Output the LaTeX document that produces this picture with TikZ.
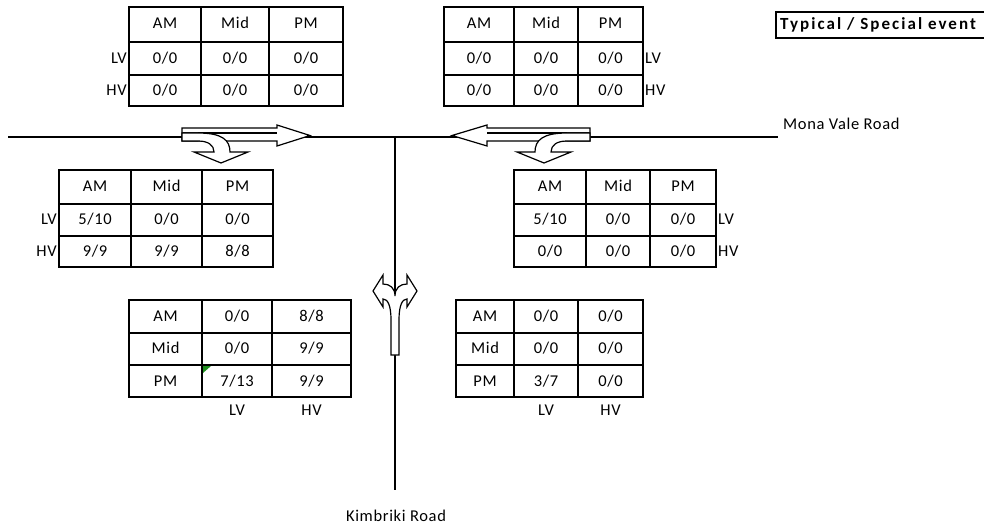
\documentclass[tikz,border=0pt]{standalone}
\usepackage{fontspec}
\setmainfont{Carlito}[LetterSpace=4]
\newfontfamily\legendfont{Carlito}[LetterSpace=12]
\definecolor{markGreen}{HTML}{1F8F1F}
\usetikzlibrary{positioning}

\begin{document}
\begin{tikzpicture}[x=1pt,y=-1pt]
    \tikzset{
        cell/.style={font=\fontsize{16.5}{19}\selectfont, inner sep=0pt, text height=10pt, text depth=1pt},
        sidelabel/.style={font=\fontsize{16.5}{19}\selectfont, inner sep=1pt, text height=10pt, text depth=1pt},
        grid/.style={line width=1.6pt},
        road/.style={line width=1.2pt},
        blockarrow/.style={draw, fill=white, line width=1.2pt, line join=miter},
    }
    \useasboundingbox (0,0) rectangle (984,526);

    % Roads
    \coordinate (westEnd) at (8,137);
    \coordinate (eastEnd) at (778,137);
    \coordinate (junction) at (395,137);
    \coordinate (southEnd) at (395,490);
    \draw[road] (westEnd) -- (eastEnd);
    \draw[road] (junction) -- (southEnd);
    \node[sidelabel, anchor=west] (monaVale) at (782,125) {Mona Vale Road};
    \node[sidelabel] (kimbriki) at (396,517) {Kimbriki Road};

    % Legend box
    \draw[line width=1.2pt] (984,12) -- (776,12) -- (776,38) -- (984,38);
    \node[sidelabel, font=\fontsize{17}{19}\legendfont\bfseries, anchor=west] (eventType) at (779,25.5) {Typical / Special event};

    % Eastbound arrows (through + turn)
    \draw[blockarrow] (182,128) -- (277,128) -- (277,125) -- (310,135.5) -- (277,146) -- (277,141) -- (182,141) -- cycle;
    \draw[line width=1.2pt] (182,133) -- (277,133);
    \draw[blockarrow] (182,133) -- (198,133) .. controls (222,133) and (230,140) .. (230,152) -- (248,152) -- (221,163) -- (194,152) -- (214,152) .. controls (214,145) and (208,141) .. (198,141) -- (182,141) -- cycle;

    % Westbound arrows (through + turn)
    \draw[blockarrow] (590,128) -- (487,128) -- (487,125) -- (452,135.5) -- (487,146) -- (487,141) -- (590,141) -- cycle;
    \draw[line width=1.2pt] (487,133) -- (590,133);
    \draw[blockarrow] (590,133) -- (567,133) .. controls (543,133) and (535,140) .. (535,152) -- (517,152) -- (544,163) -- (571,152) -- (551,152) .. controls (551,145) and (557,141) .. (567,141) -- (590,141) -- cycle;

    % Northbound split arrow
    \draw[blockarrow] (391,355) -- (391,320) .. controls (391,306) and (388,299) .. (383,299) -- (383,307) -- (373,291) -- (383,275) -- (383,284) .. controls (390,284) and (395,288) .. (395,296) .. controls (395,288) and (400,284) .. (407,284) -- (407,275) -- (417,291) -- (407,307) -- (407,299) .. controls (402,299) and (399,306) .. (399,320) -- (399,355) -- cycle;

    % Table: top left
    \draw[grid] (129,7) rectangle (343,106);
    \draw[grid] (201,7) -- (201,106) (269,7) -- (269,106) (129,42) -- (343,42) (129,75) -- (343,75);
    \node[cell] (tlAM) at (165,24.5) {AM};
    \node[cell] (tlMid) at (235,24.5) {Mid};
    \node[cell] (tlPM) at (306,24.5) {PM};
    \node[cell] (tlLVam) at (165,59) {0/0};
    \node[cell] (tlLVmid) at (235,59) {0/0};
    \node[cell] (tlLVpm) at (306,59) {0/0};
    \node[cell] (tlHVam) at (165,91) {0/0};
    \node[cell] (tlHVmid) at (235,91) {0/0};
    \node[cell] (tlHVpm) at (306,91) {0/0};
    \node[sidelabel, anchor=east] (tlLV) at (128,59) {LV};
    \node[sidelabel, anchor=east] (tlHV) at (128,91) {HV};

    % Table: top right
    \draw[grid] (444,7) rectangle (643,106);
    \draw[grid] (514,7) -- (514,106) (578,7) -- (578,106) (444,42) -- (643,42) (444,75) -- (643,75);
    \node[cell] (trAM) at (479,24.5) {AM};
    \node[cell] (trMid) at (546,24.5) {Mid};
    \node[cell] (trPM) at (610.5,24.5) {PM};
    \node[cell] (trLVam) at (479,59) {0/0};
    \node[cell] (trLVmid) at (546,59) {0/0};
    \node[cell] (trLVpm) at (610.5,59) {0/0};
    \node[cell] (trHVam) at (479,91) {0/0};
    \node[cell] (trHVmid) at (546,91) {0/0};
    \node[cell] (trHVpm) at (610.5,91) {0/0};
    \node[sidelabel, anchor=west] (trLV) at (644,59) {LV};
    \node[sidelabel, anchor=west] (trHV) at (644,91) {HV};

    % Table: middle left
    \draw[grid] (59,170) rectangle (273,267);
    \draw[grid] (131,170) -- (131,267) (202,170) -- (202,267) (59,204) -- (273,204) (59,236) -- (273,236);
    \node[cell] (mlAM) at (95,187) {AM};
    \node[cell] (mlMid) at (166.5,187) {Mid};
    \node[cell] (mlPM) at (237.5,187) {PM};
    \node[cell] (mlLVam) at (95,220.5) {5/10};
    \node[cell] (mlLVmid) at (166.5,220.5) {0/0};
    \node[cell] (mlLVpm) at (237.5,220.5) {0/0};
    \node[cell] (mlHVam) at (95,252) {9/9};
    \node[cell] (mlHVmid) at (166.5,252) {9/9};
    \node[cell] (mlHVpm) at (237.5,252) {8/8};
    \node[sidelabel, anchor=east] (mlLV) at (58,220.5) {LV};
    \node[sidelabel, anchor=east] (mlHV) at (58,252) {HV};

    % Table: middle right
    \draw[grid] (514,170) rectangle (716,267);
    \draw[grid] (586,170) -- (586,267) (650,170) -- (650,267) (514,204) -- (716,204) (514,236) -- (716,236);
    \node[cell] (mrAM) at (550,187) {AM};
    \node[cell] (mrMid) at (618,187) {Mid};
    \node[cell] (mrPM) at (683,187) {PM};
    \node[cell] (mrLVam) at (550,220.5) {5/10};
    \node[cell] (mrLVmid) at (618,220.5) {0/0};
    \node[cell] (mrLVpm) at (683,220.5) {0/0};
    \node[cell] (mrHVam) at (550,252) {0/0};
    \node[cell] (mrHVmid) at (618,252) {0/0};
    \node[cell] (mrHVpm) at (683,252) {0/0};
    \node[sidelabel, anchor=west] (mrLV) at (717,220.5) {LV};
    \node[sidelabel, anchor=west] (mrHV) at (717,252) {HV};

    % Table: bottom left
    \draw[grid] (129,300) rectangle (351,397);
    \draw[grid] (202,300) -- (202,397) (272,300) -- (272,397) (129,333) -- (351,333) (129,365) -- (351,365);
    \fill[markGreen] (203,366) -- (211,366) -- (203,373) -- cycle;
    \node[cell] (blAM) at (165.5,316.5) {AM};
    \node[cell] (blMid) at (165.5,349) {Mid};
    \node[cell] (blPM) at (165.5,381.5) {PM};
    \node[cell] (blAMlv) at (237,316.5) {0/0};
    \node[cell] (blMidlv) at (237,349) {0/0};
    \node[cell] (blPMlv) at (237,381.5) {7/13};
    \node[cell] (blAMhv) at (311.5,316.5) {8/8};
    \node[cell] (blMidhv) at (311.5,349) {9/9};
    \node[cell] (blPMhv) at (311.5,381.5) {9/9};
    \node[sidelabel] (blLV) at (237,411) {LV};
    \node[sidelabel] (blHV) at (311.5,411) {HV};

    % Table: bottom right
    \draw[grid] (456,300) rectangle (643,397);
    \draw[grid] (514,300) -- (514,397) (578,300) -- (578,397) (456,333) -- (643,333) (456,365) -- (643,365);
    \node[cell] (brAM) at (485,316.5) {AM};
    \node[cell] (brMid) at (485,349) {Mid};
    \node[cell] (brPM) at (485,381.5) {PM};
    \node[cell] (brAMlv) at (546,316.5) {0/0};
    \node[cell] (brMidlv) at (546,349) {0/0};
    \node[cell] (brPMlv) at (546,381.5) {3/7};
    \node[cell] (brAMhv) at (610.5,316.5) {0/0};
    \node[cell] (brMidhv) at (610.5,349) {0/0};
    \node[cell] (brPMhv) at (610.5,381.5) {0/0};
    \node[sidelabel] (brLV) at (546,411) {LV};
    \node[sidelabel] (brHV) at (610.5,411) {HV};
\end{tikzpicture}
\end{document}
